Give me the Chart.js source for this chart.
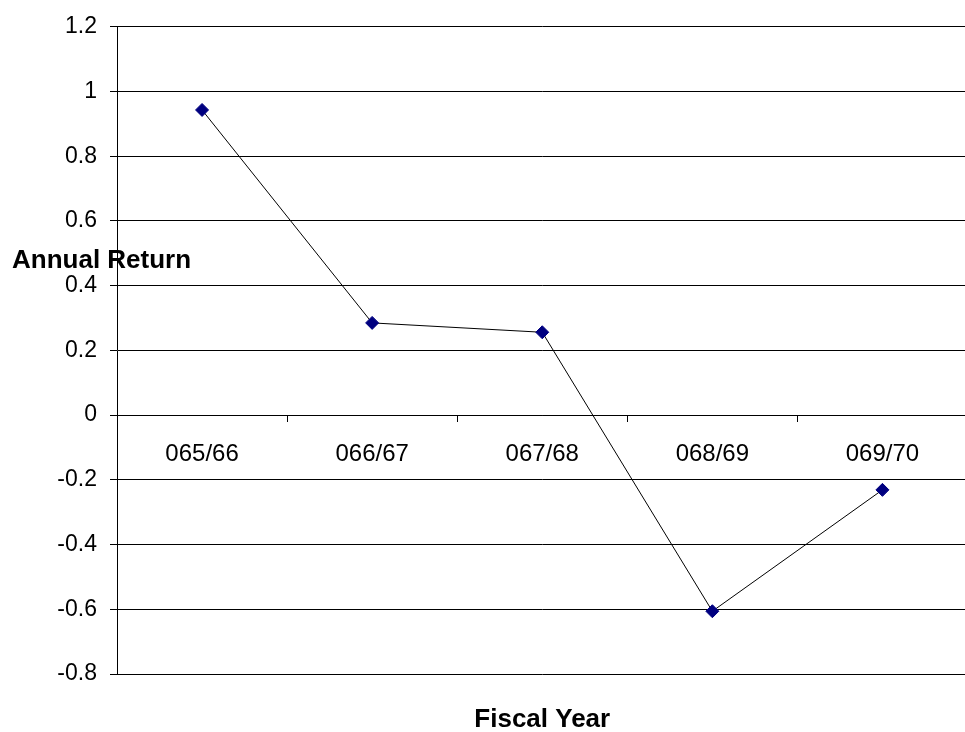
<!DOCTYPE html>
<html>
<head>
<meta charset="utf-8">
<title>Annual Return by Fiscal Year</title>
<script src="https://cdn.jsdelivr.net/npm/chart.js@4/dist/chart.umd.min.js"></script>
<style>
  html, body { margin: 0; padding: 0; background: #ffffff; }
  #wrap { width: 965px; height: 732px; overflow: hidden; position: relative; }
  canvas { display: block; }
</style>
</head>
<body>
<div id="wrap"><canvas id="chart" width="975" height="732"></canvas></div>
<script>
// Fiscal years (Nepali calendar) and the annual return for each
const fiscalYears = ['065/66', '066/67', '067/68', '068/69', '069/70'];
const annualReturn = [0.943, 0.285, 0.256, -0.606, -0.231];

// Value axis range
const yMin = -0.8;
const yMax = 1.2;
const yStep = 0.2;

const xTitle = 'Fiscal Year';
const yTitle = 'Annual Return';

const FONT = '"Liberation Sans", Arial, sans-serif';

// Horizontal axis titles (the value-axis title reads left to right, beside the axis)
const axisTitles = {
  id: 'axisTitles',
  afterDraw(chart) {
    const { ctx, chartArea } = chart;
    ctx.save();
    ctx.fillStyle = '#000';
    ctx.font = 'bold 26px ' + FONT;
    ctx.textBaseline = 'alphabetic';
    ctx.textAlign = 'left';
    ctx.fillText(yTitle, 12, 268);
    ctx.textAlign = 'center';
    ctx.fillText(xTitle, (chartArea.left + chartArea.right) / 2, 727);
    ctx.restore();
  }
};

new Chart(document.getElementById('chart'), {
  type: 'line',
  data: {
    labels: fiscalYears,
    datasets: [{
      label: yTitle,
      data: annualReturn,
      borderColor: '#000000',
      borderWidth: 1,
      tension: 0,
      fill: false,
      pointStyle: 'rectRot',
      pointRadius: 6.5,
      pointHoverRadius: 6.5,
      pointBackgroundColor: '#000080',
      pointBorderColor: '#000080',
      pointBorderWidth: 1
    }]
  },
  options: {
    responsive: false,
    animation: false,
    events: [],
    layout: { padding: { top: 23, right: 3, bottom: 58, left: 0 } },
    plugins: {
      legend: { display: false },
      tooltip: { enabled: false },
      title: { display: false }
    },
    scales: {
      x: {
        type: 'category',
        position: { y: 0 },
        offset: true,
        grid: {
          offset: true,
          drawOnChartArea: false,
          drawTicks: true,
          tickLength: 6,
          color: '#000000'
        },
        border: { display: true, color: '#000000', width: 1 },
        ticks: {
          color: '#000000',
          font: { family: FONT, size: 24 },
          padding: 19,
          maxRotation: 0,
          autoSkip: false
        }
      },
      y: {
        min: yMin,
        max: yMax,
        afterFit(scale) { scale.width = 117; },
        grid: {
          color: '#000000',
          lineWidth: 1,
          drawTicks: true,
          tickLength: 7
        },
        border: { display: true, color: '#000000', width: 1 },
        ticks: {
          stepSize: yStep,
          color: '#000000',
          font: { family: FONT, size: 23 },
          padding: 13,
          callback: (v) => String(Number(v.toFixed(1)))
        }
      }
    }
  },
  plugins: [axisTitles]
});
</script>
</body>
</html>
